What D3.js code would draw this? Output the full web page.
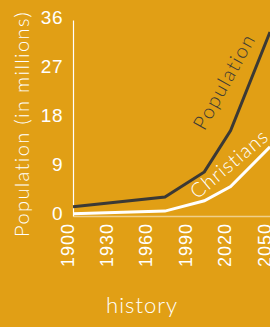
<!DOCTYPE html>
<html>
<head>
<meta charset="utf-8">
<script src="https://cdn.jsdelivr.net/npm/d3@7"></script>
<style>
  html, body { margin: 0; padding: 0; background: #e19f15; }
  svg { display: block; font-family: Lato, "Open Sans", sans-serif; font-weight: 300; }
</style>
</head>
<body>
<div id="chart"></div>
<script>
/** chart data */
const years = [1900, 1970, 2000, 2020, 2050];
const population = [1.7, 3.5, 8.1, 15.7, 33.8];
const christians = [0.4, 0.9, 2.8, 5.4, 12.7];
const yearTicks = [1900, 1930, 1960, 1990, 2020, 2050];
const valueTicks = [0, 9, 18, 27, 36];
const seriesNames = ["Population", "Christians"];
const yTitle = "Population (in millions)";
const xTitle = "history";

const width = 270;
const height = 327;
const margin = { top: 20, right: 0, bottom: 111, left: 73 };

const svg = d3
  .select("#chart")
  .append("svg")
  .attr("width", width)
  .attr("height", height);

/** background */
svg.append("rect").attr("width", width).attr("height", height).attr("fill", "#e19f15");

/** x transform */
const xScale = d3
  .scaleLinear()
  .domain([1900, 2050])
  .range([margin.left, width - margin.right]);

/** y transform */
const yScale = d3
  .scaleLinear()
  .domain([0, 36])
  .range([height - margin.bottom, margin.top]);

/** y axis */
const yAxis = svg
  .append("g")
  .attr("transform", `translate(${margin.left}, 0)`)
  .call(d3.axisLeft(yScale).tickValues(valueTicks).tickSize(0).tickSizeOuter(0).tickPadding(10));
yAxis.select(".domain").attr("stroke", "#fff").attr("stroke-width", 1.2);
yAxis
  .selectAll("text")
  .attr("fill", "#fff")
  .attr("font-size", 19)
  .attr("letter-spacing", 0.5)
  .attr("dy", "0.2em");

/** x axis */
const xAxis = svg
  .append("g")
  .attr("transform", `translate(0, ${yScale(0)})`)
  .call(
    d3.axisBottom(xScale).tickValues(yearTicks).tickSize(0).tickSizeOuter(0).tickFormat(d3.format("d"))
  );
xAxis.select(".domain").attr("stroke", "rgba(255,255,255,0.5)").attr("stroke-width", 1.5);
xAxis
  .selectAll("text")
  .attr("fill", "#fff")
  .attr("font-size", 18)
  .attr("letter-spacing", 1)
  .attr("transform", "rotate(-90)")
  .attr("text-anchor", "end")
  .attr("x", -7)
  .attr("y", 0)
  .attr("dy", "0");

/** line generator */
const line = (values) =>
  d3
    .line()
    .x((d, i) => xScale(years[i]))
    .y((d) => yScale(d))(values);

/** series lines */
svg
  .append("path")
  .attr("d", line(christians))
  .attr("fill", "none")
  .attr("stroke", "#fff")
  .attr("stroke-width", 3);
svg
  .append("path")
  .attr("d", line(population))
  .attr("fill", "none")
  .attr("stroke", "#3b3935")
  .attr("stroke-width", 3);

/** series labels along the lines */
svg
  .append("text")
  .text(seriesNames[0])
  .attr("font-size", 20)
  .attr("letter-spacing", 1.5)
  .attr("fill", "#3b3935")
  .attr(
    "transform",
    `translate(${xScale(2020) - 26}, ${yScale(population[3]) + 1}) rotate(-61)`
  );
svg
  .append("text")
  .text(seriesNames[1])
  .attr("font-size", 20)
  .attr("letter-spacing", 1)
  .attr("fill", "#fff")
  .attr(
    "transform",
    `translate(${xScale(2000) - 7}, ${yScale(christians[2]) - 1}) rotate(-40)`
  );

/** axis titles */
svg
  .append("text")
  .text(yTitle)
  .attr("font-size", 20)
  .attr("letter-spacing", 1.4)
  .attr("fill", "#fff")
  .attr("text-anchor", "middle")
  .attr("transform", `translate(29, 124) rotate(-90)`);
svg
  .append("text")
  .text(xTitle)
  .attr("font-size", 22)
  .attr("letter-spacing", 1)
  .attr("fill", "#fff")
  .attr("text-anchor", "middle")
  .attr("x", 142)
  .attr("y", 313);
</script>
</body>
</html>
